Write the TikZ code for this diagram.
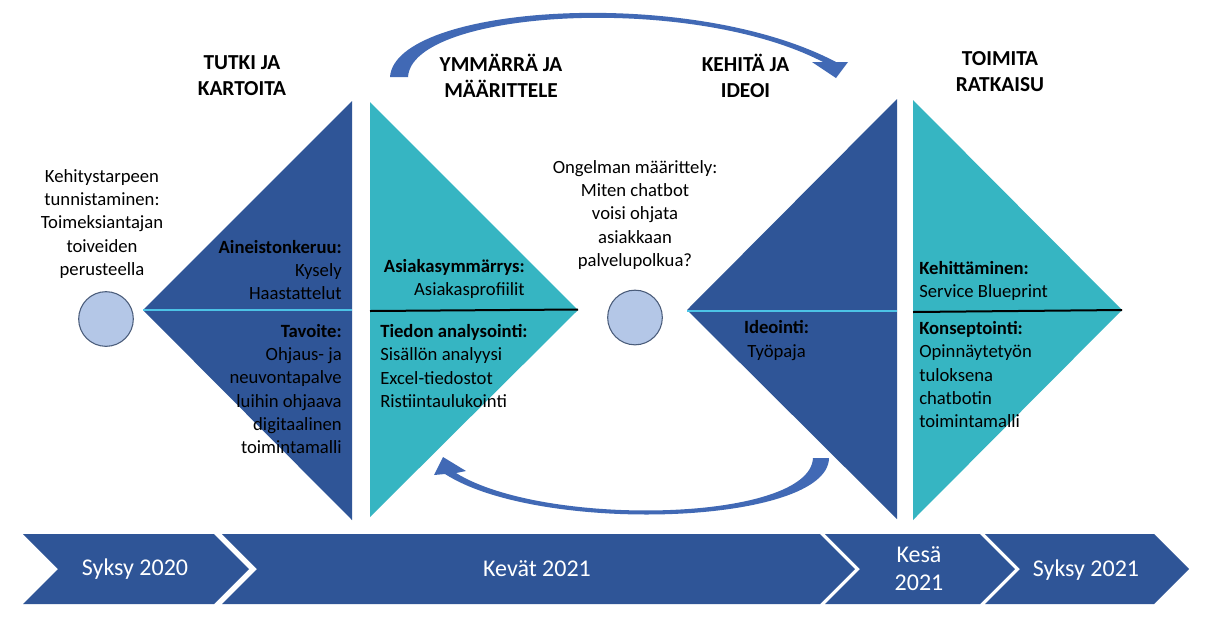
\documentclass[tikz,border=0pt]{standalone}
\usepackage{fontspec}
\setmainfont{Carlito}
\definecolor{dblue}{HTML}{2F5597}
\definecolor{tealc}{HTML}{36B5C2}
\definecolor{lcyan}{HTML}{4CC3E6}
\definecolor{circfill}{HTML}{B4C7E7}
\definecolor{circline}{HTML}{4A5C7A}
\definecolor{arrowc}{HTML}{4169B5}
\begin{document}
\begin{tikzpicture}[x=0.75pt,y=-0.75pt,
  body/.style={inner sep=0pt,font=\fontsize{14}{17.3}\selectfont,text=black},
  title/.style={inner sep=0pt,align=center,font=\fontsize{16}{19.6}\selectfont\bfseries,text=black},
  tl/.style={inner sep=0pt,align=center,font=\fontsize{18}{21}\selectfont,text=white},
  chevron/.style={fill=dblue,draw=none},
  circ/.style={draw=circline,fill=circfill,line width=0.8pt,circle,minimum size=41pt,inner sep=0pt},
  blockarrow/.style={fill=arrowc,draw=none}]
\useasboundingbox (0,0) rectangle (1211,619);
\fill[white] (0,0) rectangle (1211,619);

% triangles
\fill[dblue] (352,101) -- (352,520) -- (143,310) -- cycle;
\fill[tealc] (370,102) -- (370,517) -- (578,310) -- cycle;
\fill[dblue] (897,99) -- (897,519) -- (687,310) -- cycle;
\fill[tealc] (913,100) -- (913,520) -- (1122,310) -- cycle;
\draw[lcyan,line width=1.5pt] (143,310) -- (352,310);
\draw[lcyan,line width=1.5pt] (687,310.5) -- (897,310.5);
\draw[black,line width=1.5pt] (370,311) -- (578,309.5);
\draw[black,line width=1.5pt] (913,312) -- (1122,310);

% circles
\node[circ] (c1) at (106,319) {};
\node[circ] (c2) at (635,317.5) {};

% curved block arrows
\coordinate (ta) at (390,77);
\fill[blockarrow] (ta) .. controls (395,5) and (690,-15) .. (836,62) -- (848,62) -- (836,78) -- (812,62) -- (823,62) .. controls (690,-7) and (412,10) .. (408,77) -- cycle;
\coordinate (ba) at (829,458);
\fill[blockarrow] (ba) .. controls (828,525) and (540,535) .. (445,474) -- (434,475) -- (443,457) -- (466,471) -- (456,473) .. controls (545,528) and (810,522) .. (813,458) -- cycle;

% titles
\node[title] (h1) at (242,75.5) {TUTKI JA\\KARTOITA};
\node[title] (h2) at (501,75.5) {YMMÄRRÄ JA\\MÄÄRITTELE};
\node[title] (h3) at (745.5,75.5) {KEHITÄ JA\\IDEOI};
\node[title] (h4) at (1000,71.5) {TOIMITA\\RATKAISU};

% texts
\node[body,align=center] (l1) at (102,224) {Kehitystarpeen\\tunnistaminen:\\Toimeksiantajan\\toiveiden\\perusteella};
\node[body,align=right,anchor=east] (a1) at (342,270) {\textbf{Aineistonkeruu:}\\Kysely\\Haastattelut};
\node[body,align=right,anchor=east] (a2) at (342,389) {\textbf{Tavoite:}\\Ohjaus- ja\\neuvontapalve\\luihin ohjaava\\digitaalinen\\toimintamalli};
\node[body,align=right,anchor=east] (b1) at (525,278.5) {\textbf{Asiakasymmärrys:}\\Asiakasprofiilit};
\node[body,align=left,anchor=west] (b2) at (380,366) {\textbf{Tiedon analysointi:}\\Sisällön analyysi\\Excel-tiedostot\\Ristiintaulukointi};
\node[body,align=center] (m1) at (635,215) {Ongelman määrittely:\\Miten chatbot\\voisi ohjata\\asiakkaan\\palvelupolkua?};
\node[body,align=center] (d1) at (776.5,340.5) {\textbf{Ideointi:}\\Työpaja};
\node[body,align=left,anchor=west] (e1) at (919,281) {\textbf{Kehittäminen:}\\Service Blueprint};
\node[body,align=left,anchor=west] (e2) at (919,374.5) {\textbf{Konseptointi:}\\Opinnäytetyön\\tuloksena\\chatbotin\\toimintamalli};

% timeline
\fill[chevron] (23,534) -- (214,534) -- (249,569) -- (214,604) -- (23,604) -- (58,569) -- cycle;
\fill[chevron] (222,534) -- (820,534) -- (855,569) -- (820,604) -- (222,604) -- (257,569) -- cycle;
\fill[chevron] (825,534) -- (980,534) -- (1015,569) -- (980,604) -- (825,604) -- (860,569) -- cycle;
\fill[chevron] (985,534) -- (1154,534) -- (1189,569) -- (1154,604) -- (985,604) -- (1020,569) -- cycle;
\node[tl] (s1) at (135,569) {Syksy 2020};
\node[tl] (s2) at (537,569) {Kevät 2021};
\node[tl] (s3) at (919,569) {Kesä\\2021};
\node[tl] (s4) at (1086,570) {Syksy 2021};
\end{tikzpicture}
\end{document}
